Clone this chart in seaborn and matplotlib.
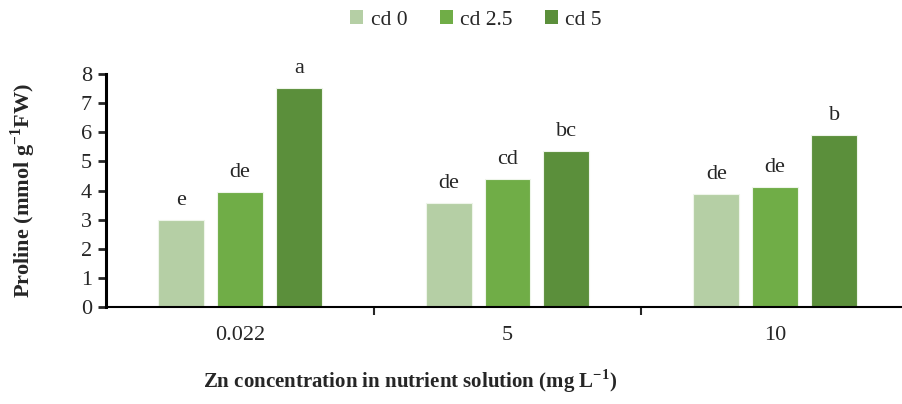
import matplotlib
matplotlib.use("Agg")
import matplotlib.pyplot as plt
import seaborn as sns
import pandas as pd
from matplotlib.patches import Patch

# data
zn_levels = ["0.022", "5", "10"]
cd_levels = ["cd 0", "cd 2.5", "cd 5"]
cd0 = [3.0, 3.57, 3.88]
cd25 = [3.95, 4.40, 4.12]
cd5 = [7.52, 5.36, 5.91]
letters_cd0 = ["e", "de", "de"]
letters_cd25 = ["de", "cd", "de"]
letters_cd5 = ["a", "bc", "b"]

colors = ["#b5cfa5", "#70ad47", "#5b8f3b"]

rows = []
for vals, labs, cd in [(cd0, letters_cd0, "cd 0"), (cd25, letters_cd25, "cd 2.5"), (cd5, letters_cd5, "cd 5")]:
    for zn, v, l in zip(zn_levels, vals, labs):
        rows.append({"zn": zn, "cd": cd, "proline": v, "letter": l})
df = pd.DataFrame(rows)

sns.set_style("white")
plt.rcParams["font.family"] = ["Liberation Serif", "DejaVu Serif"]
plt.rcParams["mathtext.fontset"] = "custom"
plt.rcParams["mathtext.rm"] = "Liberation Serif"
plt.rcParams["mathtext.bf"] = "Liberation Serif:bold"

fig = plt.figure(figsize=(9.02, 4.04), dpi=100)
ax = fig.add_axes([106 / 902, 97 / 404, 803 / 902, 233 / 404])

sns.barplot(data=df, x="zn", y="proline", hue="cd", order=zn_levels, hue_order=cd_levels,
            palette=colors, saturation=1, width=0.66, gap=0.22, edgecolor="#eef5ea",
            linewidth=0.8, ax=ax, legend=False)

# significance letters above each bar
for cont, labs in zip(ax.containers, [letters_cd0, letters_cd25, letters_cd5]):
    for bar, l in zip(cont, labs):
        ax.text(bar.get_x() + bar.get_width() / 2, bar.get_height() + 0.33, l,
                ha="center", va="bottom", fontsize=16)

ax.set_xlim(-0.5, 2.5)
ax.set_ylim(0, 8)
ax.set_yticks(range(0, 9))
ax.tick_params(axis="y", labelsize=16, length=6, width=2, direction="out", left=True, pad=4)
ax.tick_params(axis="x", which="major", labelsize=16, length=0, pad=14)
ax.set_xticks([0.5, 1.5], minor=True)
ax.tick_params(axis="x", which="minor", length=6, width=1.5, direction="out", bottom=True)

for s in ["top", "right"]:
    ax.spines[s].set_visible(False)
ax.spines["left"].set_linewidth(2.2)
ax.spines["bottom"].set_linewidth(1.5)
ax.spines["left"].set_color("black")
ax.spines["bottom"].set_color("black")

ax.set_xlabel("")
ax.set_ylabel(r"Proline (mmol g$^{\mathbf{-1}}$FW)", fontsize=16, fontweight="bold")
ax.yaxis.set_label_coords(-(106 - 38) / 803, 0.5)
fig.text(410 / 902, 1 - 381 / 404, r"Zn concentration in nutrient solution (mg L$^{\mathbf{-1}}$)",
         ha="center", va="center", fontsize=15, fontweight="bold")

handles = [Patch(facecolor=c, edgecolor="none") for c in colors]
fig.legend(handles, cd_levels, loc="center", bbox_to_anchor=(476 / 902, 1 - 20 / 404), ncol=3,
           frameon=False, fontsize=15.5, handlelength=0.6, handleheight=0.6,
           handletextpad=0.35, columnspacing=1.5)

fig.savefig("out.png", dpi=100)
